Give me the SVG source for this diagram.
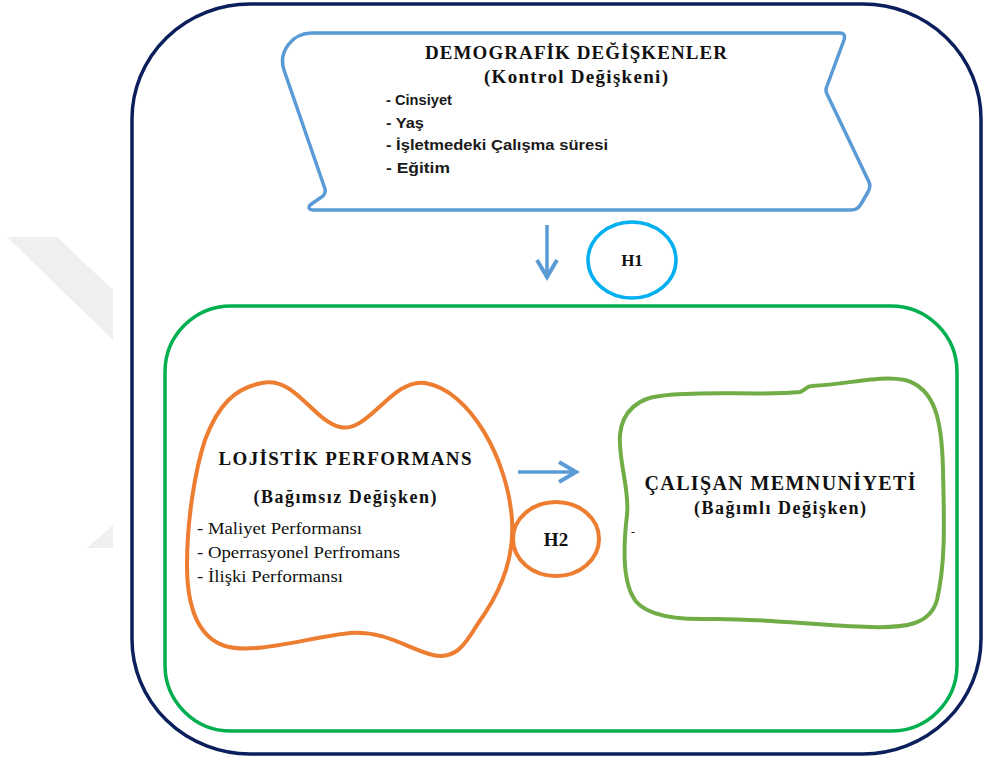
<svg xmlns="http://www.w3.org/2000/svg" width="983" height="761" viewBox="0 0 983 761">
  <defs>
    <style>
      .serifb { font-family: "Liberation Serif", "Times New Roman", serif; font-weight: bold; fill: #111; }
      .serif { font-family: "Liberation Serif", "Times New Roman", serif; fill: #111; }
      .sans { font-family: "Liberation Sans", Arial, sans-serif; font-weight: bold; fill: #1a1a1a; }
      .conn { stroke: #5B9BD5; stroke-width: 3.5; fill: none; }
    </style>
    <marker id="ah" markerWidth="24" markerHeight="24" refX="19" refY="12" orient="auto" markerUnits="userSpaceOnUse">
      <path d="M2 2 L19 12 L2 22" fill="none" stroke="#5B9BD5" stroke-width="4"/>
    </marker>
  </defs>
  <rect width="983" height="761" fill="#ffffff"/>
  <!-- watermark -->
  <polygon points="7,237 57,237 113,290 113,340" fill="#efefef"/>
  <polygon points="87,548 113,548 113,525" fill="#f0f0f0"/>

  <g id="outer-frame">
    <rect x="132" y="4" width="849" height="750" rx="118" ry="115" fill="#ffffff" stroke="#0B1F5C" stroke-width="3.5"/>
  </g>
  <g id="inner-frame">
    <rect x="165" y="306" width="792" height="425" rx="66" ry="66" fill="none" stroke="#00B050" stroke-width="3.5"/>
  </g>

  <g id="demografik">
    <path d="M312 33 H840 Q846 33 844 40 L827 86 Q825 90 827 94 L869 182 Q871 187 868 192 L861 204 Q858 210 851 210 H314 Q307 210 310 205 L323 196 Q326 193 325 189 L284 70 C278 52 292 33 312 33 Z" fill="#ffffff" stroke="#5B9BD5" stroke-width="3.5" stroke-linejoin="round"/>
    <text class="serifb" x="576" y="59" font-size="19" text-anchor="middle" textLength="302" lengthAdjust="spacing">DEMOGRAFİK DEĞİŞKENLER</text>
    <text class="serifb" x="576" y="83" font-size="19" text-anchor="middle" textLength="184" lengthAdjust="spacing">(Kontrol Değişkeni)</text>
    <text class="sans" x="386" y="105" font-size="15.5" textLength="66" lengthAdjust="spacingAndGlyphs">- Cinsiyet</text>
    <text class="sans" x="386" y="128" font-size="15.5" textLength="38" lengthAdjust="spacingAndGlyphs">- Yaş</text>
    <text class="sans" x="386" y="150" font-size="15.5" textLength="222" lengthAdjust="spacingAndGlyphs">- İşletmedeki Çalışma süresi</text>
    <text class="sans" x="386" y="173" font-size="15.5" textLength="64" lengthAdjust="spacingAndGlyphs">- Eğitim</text>
  </g>

  <g id="h1">
    <ellipse cx="632" cy="260" rx="44" ry="38" fill="#ffffff" stroke="#00B0F0" stroke-width="3.5"/>
    <text class="serifb" x="632" y="266" font-size="17" text-anchor="middle">H1</text>
  </g>

  <g id="lojistik">
    <path d="M262 383 C295 376 312 420 340 427 C368 434 392 378 425 383 C470 390 508 460 512 520 C515 565 495 600 477 625 C465 645 455 660 433 655 C410 650 385 630 350 633 C310 637 255 655 225 646 C195 636 187 600 187 565 C187 520 195 470 205 440 C218 405 235 388 262 383 Z" fill="#ffffff" stroke="#ED7D31" stroke-width="4"/>
    <text class="serifb" x="345" y="465" font-size="19" text-anchor="middle" textLength="253" lengthAdjust="spacing">LOJİSTİK PERFORMANS</text>
    <text class="serifb" x="345" y="503" font-size="18" text-anchor="middle" textLength="183" lengthAdjust="spacing">(Bağımsız Değişken)</text>
    <text class="serif" x="197" y="534" font-size="17" textLength="165" lengthAdjust="spacingAndGlyphs">- Maliyet Performansı</text>
    <text class="serif" x="197" y="558" font-size="17" textLength="203" lengthAdjust="spacingAndGlyphs">- Operrasyonel Perfromans</text>
    <text class="serif" x="197" y="582" font-size="17" textLength="146" lengthAdjust="spacingAndGlyphs">- İlişki Performansı</text>
  </g>

  <g id="h2">
    <ellipse cx="556" cy="539" rx="43" ry="37" fill="#ffffff" stroke="#ED7D31" stroke-width="4"/>
    <text class="serifb" x="556" y="546" font-size="19" text-anchor="middle">H2</text>
  </g>

  <g id="calisan">
    <path d="M660 396 C700 390 760 396 800 392 C806 390 806 386 812 386 C850 384 880 375 905 380 C935 388 942 420 943 470 C944 520 946 560 937 600 C930 625 905 628 870 627 C820 626 760 618 710 619 C670 620 640 614 632 595 C622 575 624 540 627 515 C630 490 618 460 620 435 C622 410 640 398 660 396 Z" fill="#ffffff" stroke="#70AD47" stroke-width="4"/>
    <text class="serifb" x="780" y="490" font-size="20" text-anchor="middle" textLength="271" lengthAdjust="spacing">ÇALIŞAN MEMNUNİYETİ</text>
    <text class="serifb" x="780" y="514" font-size="18" text-anchor="middle" textLength="172" lengthAdjust="spacing">(Bağımlı Değişken)</text>
    <text class="serif" x="631" y="536" font-size="12">-</text>
  </g>

  <g id="connectors">
    <line class="conn" x1="547" y1="225" x2="547" y2="277" marker-end="url(#ah)"/>
    <line class="conn" x1="518" y1="472" x2="576" y2="472" marker-end="url(#ah)"/>
  </g>
</svg>
